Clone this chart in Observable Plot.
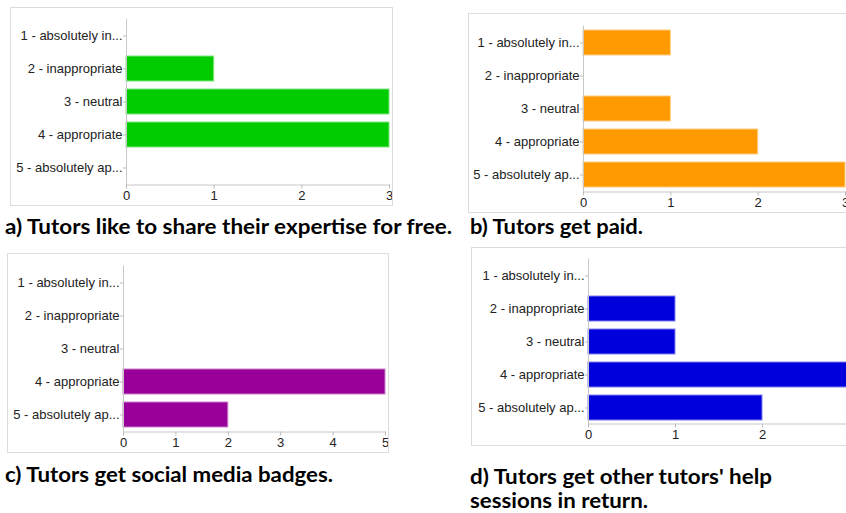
<!DOCTYPE html>
<html>
<head>
<meta charset="utf-8">
<script src="https://cdn.jsdelivr.net/npm/d3@7"></script>
<script src="https://cdn.jsdelivr.net/npm/@observablehq/plot@0.6"></script>
<style>
  html, body { margin: 0; padding: 0; background: white; }
  body { width: 846px; height: 513px; position: relative; overflow: hidden; }
  .panel { position: absolute; }
  .panel svg { outline: 1px solid #dcdcdc; outline-offset: -1px; display: block; max-width: none !important; }
  .panel svg text { font-size: 13px; }
  #captions { position: absolute; left: 0; top: 0; pointer-events: none; }
</style>
</head>
<body>
<div id="pa" class="panel"></div>
<div id="pb" class="panel"></div>
<div id="pc" class="panel"></div>
<div id="pd" class="panel"></div>
<svg id="captions" width="846" height="513"></svg>
<script>
// Shared categories (Likert scale answers)
const categories = [
  "1 - absolutely in...",
  "2 - inappropriate",
  "3 - neutral",
  "4 - appropriate",
  "5 - absolutely ap..."
];

// Counts per panel
const valuesA = [0, 1, 3, 3, 0]; // Tutors like to share their expertise for free
const valuesB = [1, 0, 1, 2, 3]; // Tutors get paid
const valuesC = [0, 0, 0, 5, 2]; // Tutors get social media badges
const valuesD = [0, 1, 1, 3, 2]; // Tutors get other tutors' help sessions in return

const ticksA = [0, 1, 2, 3];
const ticksB = [0, 1, 2, 3];
const ticksC = [0, 1, 2, 3, 4, 5];
const ticksD = [0, 1, 2, 3];

const captionA = "a) Tutors like to share their expertise for free.";
const captionB = "b) Tutors get paid.";
const captionC = "c) Tutors get social media badges.";
const captionD1 = "d) Tutors get other tutors' help";
const captionD2 = "sessions in return.";

function panel(id, values, ticks, color, edge, box) {
  const data = categories.map((c, i) => ({cat: c, value: values[i]}));
  const el = document.getElementById(id);
  el.style.left = box.left + "px";
  el.style.top = box.top + "px";
  el.style.width = box.width + "px";
  el.style.height = box.height + "px";
  const chart = Plot.plot({
    width: box.width,
    height: box.height,
    marginLeft: box.ml,
    marginRight: box.mr,
    marginTop: box.mt,
    marginBottom: box.mb,
    style: {fontFamily: "'Liberation Sans', Arial, sans-serif", background: "white", overflow: "visible"},
    x: {domain: [0, ticks[ticks.length - 1]], ticks: ticks, tickFormat: d3.format("d")},
    y: {domain: categories, paddingInner: 0.25, paddingOuter: 0.125},
    marks: [
      Plot.barX(data.filter(d => d.value > 0), {x: "value", y: "cat", fill: color, stroke: edge, strokeWidth: 1}),
      Plot.frame({anchor: "left", stroke: "#c8c8c8"}),
      Plot.frame({anchor: "bottom", stroke: "#c8c8c8"}),
      Plot.axisY({tickSize: 3, tickPadding: 1, stroke: "#bbb", fill: "#222", fontSize: 13, label: null}),
      Plot.axisX({ticks: ticks, tickFormat: d3.format("d"), tickSize: 4, tickPadding: 2, stroke: "#bbb", fill: "#222", fontSize: 13, label: null})
    ]
  });
  el.appendChild(chart);
}

panel("pa", valuesA, ticksA, "#00cc00", "#7fe57f", {left: 10, top: 7, width: 383, height: 199, ml: 116, mr: 4, mt: 11.5, mb: 21.5});
panel("pb", valuesB, ticksB, "#ff9900", "#ffcc80", {left: 468, top: 13, width: 381, height: 200, ml: 115, mr: 4, mt: 12.5, mb: 21.5});
panel("pc", valuesC, ticksC, "#990099", "#cc80cc", {left: 7, top: 253, width: 382, height: 200, ml: 116, mr: 4, mt: 12.5, mb: 21.5});
panel("pd", valuesD, ticksD, "#0000dd", "#8080ee", {left: 471, top: 247, width: 382, height: 199, ml: 117, mr: 4, mt: 11.5, mb: 22.5});

// Captions (real text, stretched to reference width)
const caps = [
  {text: captionA, x: 5, y: 234, w: 447},
  {text: captionB, x: 470, y: 234, w: 173},
  {text: captionC, x: 5, y: 482, w: 328},
  {text: captionD1, x: 470, y: 484, w: 302},
  {text: captionD2, x: 470, y: 508, w: 178}
];
const capSvg = d3.select("#captions");
capSvg.selectAll("text").data(caps).join("text")
  .attr("x", d => d.x)
  .attr("y", d => d.y)
  .attr("textLength", d => d.w)
  .attr("lengthAdjust", "spacingAndGlyphs")
  .style("font-family", "Lato, 'Open Sans', sans-serif")
  .style("font-weight", "700")
  .style("font-size", "20px")
  .style("fill", "#000")
  .text(d => d.text);
</script>
</body>
</html>
